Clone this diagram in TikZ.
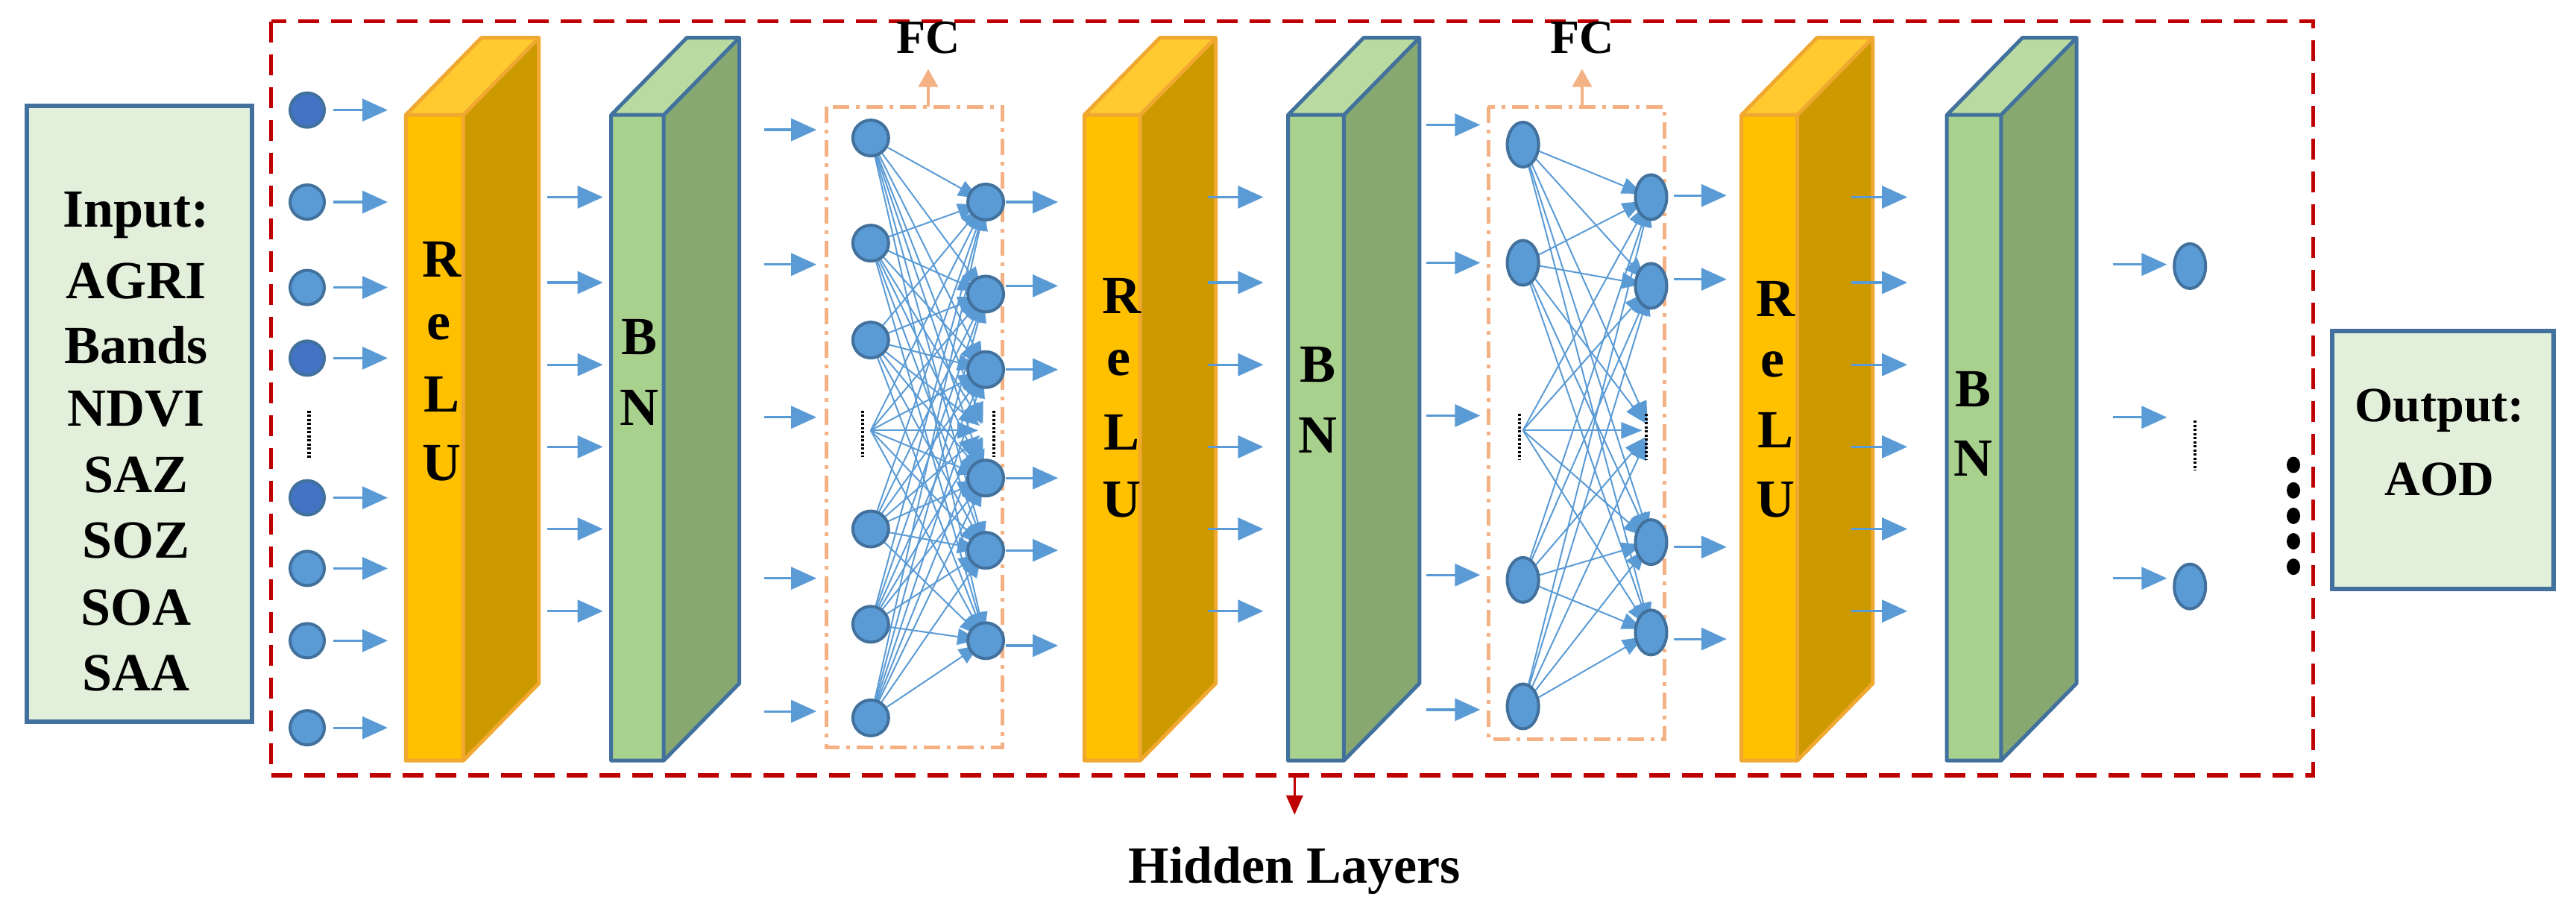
\documentclass[tikz,border=0pt]{standalone}
\usepackage{fontspec}
\setmainfont{Liberation Serif}
\usetikzlibrary{arrows.meta,shapes.geometric}
\definecolor{nb}{HTML}{5B9BD5}
\definecolor{ne}{HTML}{41719C}
\definecolor{nd}{HTML}{4472C4}
\definecolor{of}{HTML}{FFC000}
\definecolor{os}{HTML}{CC9900}
\definecolor{ot}{HTML}{FFCA30}
\definecolor{oe}{HTML}{F0A830}
\definecolor{gf}{HTML}{A9D18E}
\definecolor{gs}{HTML}{87A870}
\definecolor{gt}{HTML}{B9DAA1}
\definecolor{ib}{HTML}{E2EFDA}
\definecolor{rd}{HTML}{C00000}
\definecolor{fcb}{HTML}{F4B183}
\tikzset{
 arr/.style={draw=nb,line width=3.2pt,-{Triangle[length=34pt,width=30pt]}},
 fca/.style={draw=nb,line width=2pt,-{Triangle[length=28pt,width=22pt]}},
 nd/.style={circle,fill=nb,draw=ne,line width=4pt,minimum size=46pt,inner sep=0pt},
 ndd/.style={nd,fill=nd},
 nel/.style={ellipse,fill=nb,draw=ne,line width=4pt,minimum width=42pt,minimum height=60pt,inner sep=0pt},
 lbl/.style={font=\bfseries\fontsize{72}{72}\selectfont,inner sep=0pt},
 vd/.style={draw=black,line width=4.5pt,dash pattern=on 3pt off 2.5pt},
 io/.style={draw=ne,line width=6pt,fill=ib},
 fcbox/.style={draw=fcb,line width=5pt,dash pattern=on 22pt off 9pt on 5pt off 9pt},
}
\newcommand\myslab[6]{% x, width, front, side, top, edge
 \fill[#4] (#1+#2,70)--(#1+#2+46,23)--(#1+#2+46,416)--(#1+#2,463)--cycle;
 \fill[#5] (#1,70)--(#1+46,23)--(#1+#2+46,23)--(#1+#2,70)--cycle;
 \fill[#3] (#1,70) rectangle (#1+#2,463);
 \draw[#6,line width=5pt,line join=round] (#1,463)--(#1,70)--(#1+46,23)--(#1+#2+46,23)--(#1+#2+46,416)--(#1+#2,463)--cycle
   (#1,70)--(#1+#2,70)--(#1+#2+46,23) (#1+#2,70)--(#1+#2,463);
}
\begin{document}
\begin{tikzpicture}[x=2.2035pt,y=-2.2035pt]
\useasboundingbox (0,0) rectangle (1568,559.6);
% hidden layers box
\draw[rd,line width=5.5pt,dash pattern=on 28pt off 16pt] (165,13) rectangle (1408,472);
\coordinate (hb) at (788,472);
\node[font=\bfseries\fontsize{70}{70}\selectfont] (hl) at (788,530) {Hidden Layers};
\draw[rd,line width=3.5pt,-{Triangle[length=26pt,width=22pt]}] (hb) -- (788,496);
% input
\node[io,minimum width=137*2.2035pt,minimum height=375*2.2035pt,anchor=north west] (inp) at (15,63) {};
\foreach \t/\y in {Input:/131,AGRI/171,Bands/210,NDVI/249,SAZ/289,SOZ/329,SOA/370,SAA/410}
  \node[lbl] at (83,\y) {\t};
% output
\node[io,minimum width=135*2.2035pt,minimum height=157*2.2035pt,anchor=north west] (out) at (1418,200) {};
\node[lbl,font=\bfseries\fontsize{66}{66}\selectfont] at (1485,250) {Output:};
\node[lbl,font=\bfseries\fontsize{66}{66}\selectfont] at (1485,292) {AOD};
\foreach \y in {283,298.5,314,329.5,345} \fill (1396,\y) ellipse (9pt and 11pt);
% input nodes
\foreach \y/\s [count=\i] in {67/ndd,123/nd,175/nd,218/ndd,303/ndd,346/nd,390/nd,443/nd} {
  \node[\s] (in\i) at (187,\y) {};
  \draw[arr] (203,\y) -- (236,\y);
}
\draw[vd] (188,250) -- (188,279);
% slabs
\myslab{247}{35}{of}{os}{ot}{oe}
\myslab{372}{32}{gf}{gs}{gt}{ne}
\myslab{660}{34}{of}{os}{ot}{oe}
\myslab{784}{34}{gf}{gs}{gt}{ne}
\myslab{1060}{34}{of}{os}{ot}{oe}
\myslab{1185}{33}{gf}{gs}{gt}{ne}
% letters
\foreach \x/\a/\b/\c/\d in {269/158/199/240/282, 683/180/221/263/304, 1081/182/222/262/304}{
 \node[lbl] at (\x,\a) {R}; \node[lbl] at (\x-2,\b) {e};
 \node[lbl] at (\x,\c) {L}; \node[lbl] at (\x,\d) {U};}
\node[lbl] at (389,205) {B}; \node[lbl] at (389,248) {N};
\node[lbl] at (802,222) {B}; \node[lbl] at (802,265) {N};
\node[lbl] at (1201,237) {B}; \node[lbl] at (1201,279) {N};
% arrows after relu/bn
\foreach \x in {333,735,1127} \foreach \y in {120,172,222,272,322,372} \draw[arr] (\x,\y) -- (\x+34,\y);
\foreach \y in {79,161,254,352,433} \draw[arr] (465,\y) -- (497,\y);
\foreach \y in {76,160,253,350,432} \draw[arr] (868,\y) -- (901,\y);
\foreach \y in {161,254,352} \draw[arr] (1286,\y) -- (1319,\y);
\node[nel] (o1) at (1333,162) {};
\node[nel] (o2) at (1333,357) {};
\draw[vd] (1336,256) -- (1336,286);
% FC1
\draw[fcbox] (503,65) rectangle (610,455);
\node[font=\bfseries\fontsize{64}{64}\selectfont] (fc1) at (565,23) {FC};
\draw[fcb,line width=3.5pt,-{Triangle[length=24pt,width=26pt]}] (565,65) -- (565,42);
\foreach \y [count=\i] in {84,148,207,262,322,380,437} \coordinate (a\i) at (530,\y);
\foreach \y [count=\i] in {123,179,225,262,291,335,390} \coordinate (b\i) at (600,\y);
\foreach \i in {1,...,7} \foreach \j in {1,...,7} \draw[fca,shorten >=10pt] (a\i) -- (b\j);
\foreach \i in {1,2,3,5,6,7} \node[nd,minimum size=48pt] at (a\i) {};
\foreach \i in {1,2,3,5,6,7} \node[nd,minimum size=48pt] at (b\i) {};
\draw[vd] (525,250) -- (525,278);
\draw[vd] (605,250) -- (605,278);
\foreach \y in {123,174,225,291,335,393} \draw[arr] (612,\y) -- (644,\y);
% FC2
\draw[fcbox] (906,65) rectangle (1013,450);
\node[font=\bfseries\fontsize{64}{64}\selectfont] (fc2) at (963,23) {FC};
\draw[fcb,line width=3.5pt,-{Triangle[length=24pt,width=26pt]}] (963,65) -- (963,42);
\foreach \y [count=\i] in {88,160,262,353,430} \coordinate (c\i) at (927,\y);
\foreach \y [count=\i] in {120,174,262,330,385} \coordinate (d\i) at (1005,\y);
\foreach \i in {1,...,5} \foreach \j in {1,...,5} \draw[fca,shorten >=12pt] (c\i) -- (d\j);
\foreach \i in {1,2,4,5} \node[nel] at (c\i) {};
\foreach \i in {1,2,4,5} \node[nel] at (d\i) {};
\draw[vd] (925,252) -- (925,280);
\draw[vd] (1002,252) -- (1002,280);
\foreach \y in {119,170,333,389} \draw[arr] (1019,\y) -- (1051,\y);
\end{tikzpicture}
\end{document}
